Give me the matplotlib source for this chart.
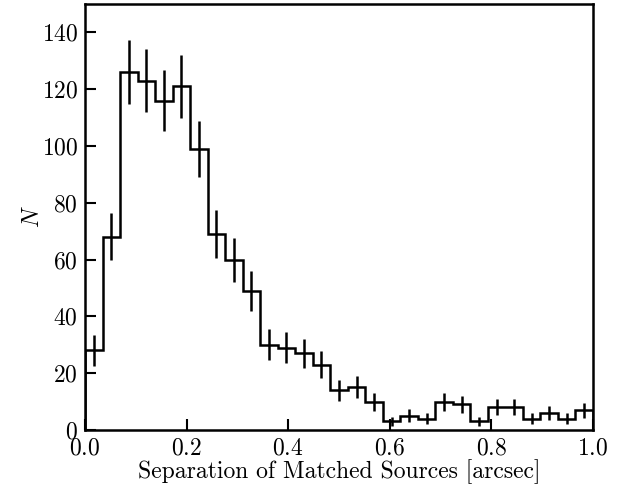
import numpy as np
import matplotlib
matplotlib.use("Agg")
import matplotlib.pyplot as plt

plt.rcParams['font.family'] = 'serif'
plt.rcParams['font.serif'] = ['cmr10', 'DejaVu Serif']
plt.rcParams['mathtext.fontset'] = 'cm'
plt.rcParams['axes.formatter.use_mathtext'] = True

# cuentas por bin (29 bins entre 0 y 1 arcsec)
counts = np.array([28, 68, 126, 123, 116, 121, 99, 69, 60, 49,
                   30, 29, 27, 23, 14, 15, 10, 3, 5, 4,
                   10, 9, 3, 8, 8, 4, 6, 4, 7])
edges = np.linspace(0, 1, len(counts) + 1)
centers = 0.5 * (edges[:-1] + edges[1:])
errors = np.sqrt(counts)

fig = plt.figure(figsize=(6.22, 4.94), dpi=100)
ax = fig.add_axes([85/622, 64/494, 508/622, 426/494])

ax.stairs(counts, edges, color='black', linewidth=1.8)
ax.errorbar(centers, counts, yerr=errors, fmt='none', ecolor='black',
            elinewidth=1.8, capsize=0)

ax.set_xlim(0, 1)
ax.set_ylim(0, 150)
ax.set_xticks([0.0, 0.2, 0.4, 0.6, 0.8, 1.0])
ax.set_yticks(np.arange(0, 141, 20))
ax.tick_params(direction='in', length=8, width=1.5, labelsize=17,
               top=False, right=False, pad=5)
for s in ax.spines.values():
    s.set_linewidth(1.8)

ax.set_xlabel("Separation of Matched Sources [arcsec]", fontsize=17, labelpad=0)
ax.set_ylabel("$N$", fontsize=17, labelpad=-2)

fig.savefig("out.png", dpi=100)
